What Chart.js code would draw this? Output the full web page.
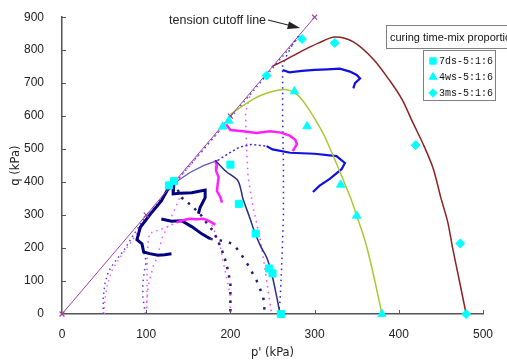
<!DOCTYPE html>
<html>
<head>
<meta charset="utf-8">
<script src="https://cdn.jsdelivr.net/npm/chart.js@4.4.0/dist/chart.umd.min.js"></script>
<style>
  body { margin: 0; background: #fff; }
</style>
</head>
<body>
<canvas id="grafico" width="507" height="362"></canvas>
<script>
// ---- dados: pares [p', q] em kPa ----
const xTicks = [0, 100, 200, 300, 400, 500];
const yTicks = [0, 100, 200, 300, 400, 500, 600, 700, 800, 900];

const legendTitle = 'curing time-mix proportion';
const legendLabels = ['7ds-5:1:6', '4ws-5:1:6', '3ms-5:1:6'];
const noteText = 'tension cutoff line';

// linha de corte de tração
const tensionCutoff = [[0, 0], [100, 300], [200, 600], [300, 900]];

// envoltórias
const env7ds = [[182, 466], [195, 432], [209, 404], [215, 349], [223, 292], [229, 247], [236, 205], [243, 172], [249, 123], [254, 65], [259, 0]];
const env4ws = [[200, 605], [215, 632], [235, 662], [263, 681], [280, 664], [292, 625], [302, 584], [310, 548], [318, 504], [332, 419], [343, 350], [352, 283], [359, 230], [365, 173], [372, 95], [380, 0]];
const env3ms = [[249, 750], [265, 770], [283, 795], [305, 822], [324, 840], [346, 825], [370, 772], [390, 705], [404, 650], [416, 584], [430, 509], [441, 440], [450, 352], [458, 280], [464, 199], [472, 100], [480, 0]];

// pontos de ensaio
const pts7ds = [[127, 390], [133, 403], [200, 453], [210, 334], [230, 244], [246, 138], [250, 123], [260, 0]];
const pts4ws = [[191, 568], [198, 586], [276, 675], [291, 569], [331, 392], [350, 298], [380, 0]];
const pts3ms = [[243, 723], [285, 834], [324, 822], [420, 512], [473, 214], [480, 0]];

// trajetórias de tensão (pontilhadas)
const blueDot50 = [[49, 0], [49, 51], [51, 93], [55, 127], [61, 153], [67, 172], [75, 199], [83, 232], [95, 280], [110, 325], [130, 385], [150, 445], [170, 505], [190, 565], [210, 625], [230, 685], [250, 745], [265, 790], [282, 843]];
const pinkDot50 = [[50, 0], [51, 45], [54, 90], [59, 130], [66, 160], [74, 190], [84, 225], [100, 290], [120, 355], [140, 415], [160, 475], [180, 535], [195, 580]];
const blueDot100 = [[99, 0], [96, 52], [96, 93], [98, 133], [100, 160], [97, 188]];
const pinkDot100a = [[100, 0], [101, 50], [101, 110], [101, 163], [102, 213], [104, 245], [112, 252], [124, 263], [136, 278]];
const pinkDot100b = [[100, 0], [102, 81], [108, 142], [113, 172], [116, 202], [119, 232], [125, 262], [130, 295], [136, 330], [142, 365]];
const pinkDot200 = [[200, 0], [200, 52], [197, 93], [191, 163], [188, 203], [182, 244], [178, 270]];
const pinkDot250 = [[223, 660], [218, 610], [219, 514], [221, 414], [227, 323], [235, 232], [239, 172], [243, 102], [247, 33], [249, 0]];
const navyDot1 = [[133, 400], [142, 353], [154, 328], [165, 300], [172, 275], [179, 253], [184, 229], [190, 193], [194, 163], [197, 133], [200, 93], [200, 52], [200, 0]];
const navyDot2 = [[176, 228], [190, 222], [203, 213], [211, 188], [221, 148], [231, 102], [239, 52], [241, 0]];
const blueVert = [[257, 0], [259, 40], [261, 150], [263, 300], [263, 450], [262, 600], [262, 700], [262, 756], [265, 774], [271, 804], [277, 831], [282, 845]];
const slateLine = [[134, 398], [152, 429], [168, 450], [185, 466]];
const blueMidDot = [[185, 466], [200, 490], [211, 506], [225, 514], [243, 509]];

// trajetórias de tensão (traço grosso)
const blueMidThick = [[243, 509], [250, 499], [271, 489], [300, 486], [326, 479], [336, 458], [332, 439], [318, 410], [306, 389], [298, 370]];
const blueTopThick = [[262, 740], [270, 733], [285, 737], [300, 740], [315, 742], [330, 744], [342, 735], [350, 725], [354, 714], [348, 700], [346, 684]];
const magentaTop = [[195, 575], [200, 558], [215, 554], [231, 549], [247, 554], [260, 550], [271, 540], [277, 528], [279, 515], [274, 494]];
const magentaWiggle = [[182, 466], [184, 450], [183, 434], [186, 415], [185, 397], [184, 373], [188, 355], [190, 338]];
const magentaLow = [[136, 278], [145, 285], [152, 289], [160, 287], [168, 289], [176, 280], [182, 271]];
const navyLow = [[130, 183], [122, 180], [114, 178], [104, 183], [97, 188], [95, 213], [89, 225], [93, 263], [105, 303], [118, 343], [126, 380], [133, 400]];
const navyLoop = [[133, 400], [132, 364], [140, 366], [154, 368], [170, 376], [170, 353], [164, 323], [162, 304]];
const navyMid = [[118, 288], [130, 281], [142, 283], [154, 265], [166, 243], [176, 228]];

const pts = a => a.map(([x, y]) => ({ x: x, y: y }));

function trajetoria(dados, cor, largura, traco) {
    return {
        data: pts(dados),
        showLine: true,
        borderColor: cor,
        backgroundColor: cor,
        borderWidth: largura,
        borderDash: traco || [],
        pointRadius: 0,
        tension: 0,
        clip: false
    };
}

function marcadores(dados, estilo, raio) {
    return {
        data: pts(dados),
        showLine: false,
        pointStyle: estilo,
        pointRadius: raio,
        pointBackgroundColor: '#00ffff',
        pointBorderColor: '#00ffff',
        pointBorderWidth: 1,
        clip: false
    };
}

const envoltoria = (dados, cor) => Object.assign(trajetoria(dados, cor, 1.5), { tension: 0.3 });

const cutoff = Object.assign(trajetoria(tensionCutoff, '#a040a0', 1), {
    pointRadius: 3.5, pointStyle: 'crossRot', pointBorderColor: '#a040a0', pointBorderWidth: 1.2
});

// plugin com a legenda, a nota com seta e os tiques internos
const extras = {
    id: 'extras',
    afterDraw(chart) {
        const ctx = chart.ctx;
        const sx = chart.scales.x, sy = chart.scales.y;
        ctx.save();

        // tiques para dentro
        ctx.strokeStyle = '#555';
        ctx.lineWidth = 1;
        xTicks.slice(1).forEach(v => {
            const px = Math.round(sx.getPixelForValue(v)) + 0.5;
            ctx.beginPath(); ctx.moveTo(px, sy.bottom); ctx.lineTo(px, sy.bottom - 4); ctx.stroke();
        });
        yTicks.slice(1).forEach(v => {
            const py = Math.round(sy.getPixelForValue(v)) + 0.5;
            ctx.beginPath(); ctx.moveTo(sx.left, py); ctx.lineTo(sx.left + 4, py); ctx.stroke();
        });

        // nota "tension cutoff line" com seta
        ctx.fillStyle = '#222';
        ctx.font = '12.5px "Liberation Sans", Arial, sans-serif';
        ctx.textBaseline = 'middle';
        ctx.textAlign = 'left';
        ctx.fillText(noteText, 169, 21);
        ctx.strokeStyle = '#222';
        ctx.lineWidth = 1.2;
        ctx.beginPath(); ctx.moveTo(268, 20); ctx.lineTo(292, 26); ctx.stroke();
        ctx.beginPath();
        ctx.moveTo(300, 28); ctx.lineTo(289, 21.5); ctx.lineTo(287, 29); ctx.closePath();
        ctx.fill();

        // caixa do título da legenda
        ctx.fillStyle = '#fff';
        ctx.fillRect(386.5, 25.5, 130, 23);
        ctx.strokeStyle = '#808080';
        ctx.lineWidth = 1;
        ctx.strokeRect(386.5, 25.5, 130, 23);
        ctx.fillStyle = '#111';
        ctx.font = '11px "Liberation Sans", Arial, sans-serif';
        ctx.fillText(legendTitle, 390, 37.5);

        // caixa da legenda
        ctx.fillStyle = '#fff';
        ctx.fillRect(423.5, 50.5, 72, 50);
        ctx.strokeRect(423.5, 50.5, 72, 50);
        const estilos = ['rect', 'triangle', 'rectRot'];
        const raios = [4.5, 4.5, 4.2];
        ctx.font = '10px "Liberation Mono", "DejaVu Sans Mono", monospace';
        legendLabels.forEach((txt, i) => {
            const yy = 61 + i * 16;
            ctx.fillStyle = '#00ffff';
            ctx.strokeStyle = '#00ffff';
            Chart.helpers.drawPoint(ctx, { pointStyle: estilos[i], radius: raios[i], rotation: 0, borderWidth: 1 }, 433, yy);
            ctx.fillStyle = '#111';
            ctx.fillText(txt, 439, yy + 0.5);
        });

        ctx.restore();
    }
};

const ctx = document.getElementById('grafico').getContext('2d');

const meuGrafico = new Chart(ctx, {
    type: 'scatter',
    data: {
        datasets: [
            marcadores(pts7ds, 'rect', 5),
            marcadores(pts4ws, 'triangle', 4.8),
            marcadores(pts3ms, 'rectRot', 4.5),
            cutoff,
            envoltoria(env7ds, '#2b2b88'),
            envoltoria(env4ws, '#a8c832'),
            envoltoria(env3ms, '#8b2222'),
            trajetoria(blueMidThick, '#1010e0', 2.2),
            trajetoria(blueTopThick, '#1010e0', 2.2),
            trajetoria(magentaTop, '#ff20ff', 2.5),
            trajetoria(magentaWiggle, '#ff20ff', 2.5),
            trajetoria(magentaLow, '#ff20ff', 2.5),
            trajetoria(navyLow, '#000080', 3),
            trajetoria(navyLoop, '#000080', 3),
            trajetoria(navyMid, '#000080', 3),
            trajetoria(slateLine, '#5a5ab8', 1.2),
            trajetoria(blueMidDot, '#3030e0', 1.5, [2, 2.5]),
            trajetoria(blueVert, '#2020ee', 1.5, [1.5, 4]),
            trajetoria(navyDot1, '#20207a', 2.5, [2.5, 6]),
            trajetoria(navyDot2, '#20207a', 2.5, [2.5, 7]),
            trajetoria(blueDot50, '#4a4ae0', 1.5, [1.5, 3.5]),
            trajetoria(pinkDot50, '#ff60ff', 1.5, [1.5, 4]),
            trajetoria(blueDot100, '#4a4ab8', 1.5, [1.5, 4]),
            trajetoria(pinkDot100a, '#ff50ff', 1.5, [1.5, 4]),
            trajetoria(pinkDot100b, '#ff50ff', 1.5, [1.5, 4.5]),
            trajetoria(pinkDot200, '#ff50ff', 1.5, [1.5, 4.5]),
            trajetoria(pinkDot250, '#ff40ff', 1.5, [1.5, 4.5])
        ]
    },
    options: {
        responsive: false,
        animation: false,
        events: [],
        layout: { padding: { top: 15, right: 24, left: 0, bottom: 0 } },
        plugins: {
            legend: { display: false },
            tooltip: { enabled: false }
        },
        scales: {
            x: {
                type: 'linear',
                min: 0,
                max: 500,
                afterFit: s => { s.height = 48; },
                afterBuildTicks: s => { s.ticks = xTicks.map(v => ({ value: v })); },
                grid: { display: false },
                border: { display: true, color: '#555', width: 1.5 },
                ticks: {
                    padding: 5,
                    color: '#222',
                    font: { family: '"Liberation Sans", Arial, sans-serif', size: 12 }
                },
                title: {
                    display: true,
                    text: "p' (kPa)",
                    color: '#222',
                    padding: { top: 0, bottom: 2 },
                    font: { family: '"DejaVu Sans", sans-serif', size: 11.5 }
                }
            },
            y: {
                type: 'linear',
                min: 0,
                max: 900,
                afterFit: s => { s.width = 62; },
                afterBuildTicks: s => { s.ticks = yTicks.map(v => ({ value: v })); },
                grid: { display: false },
                border: { display: true, color: '#555', width: 1.5 },
                ticks: {
                    padding: 10,
                    color: '#222',
                    font: { family: '"Liberation Sans", Arial, sans-serif', size: 12 }
                },
                title: {
                    display: true,
                    text: 'q (kPa)',
                    color: '#222',
                    padding: { top: 9, bottom: 0 },
                    font: { family: '"DejaVu Sans", sans-serif', size: 11.5 }
                }
            }
        }
    },
    plugins: [extras]
});
</script>
</body>
</html>
